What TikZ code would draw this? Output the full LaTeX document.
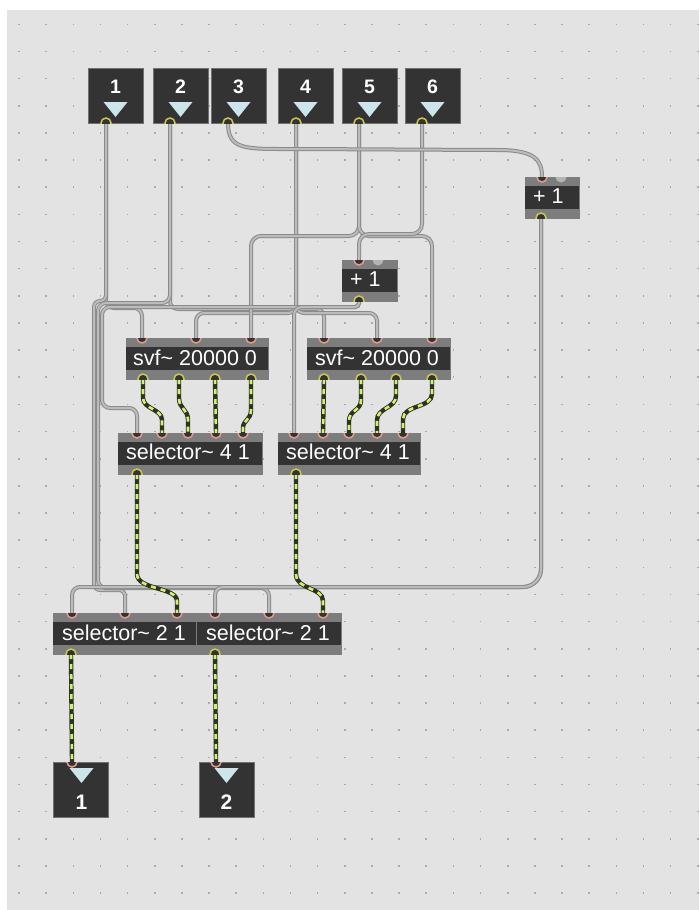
\documentclass[tikz,border=0pt]{standalone}
\usepackage{fontspec}
\setmainfont{Liberation Sans}
\definecolor{bg}{HTML}{E3E3E3}
\definecolor{dotc}{HTML}{ABABAB}
\definecolor{boxdark}{HTML}{333333}
\definecolor{boxedge}{HTML}{707070}
\definecolor{band}{HTML}{7D7D7D}
\definecolor{tri}{HTML}{CBE5EA}
\definecolor{inpink}{HTML}{E69A8A}
\definecolor{outyel}{HTML}{C9C94E}
\definecolor{coldgray}{HTML}{B4B4B4}
\definecolor{cordedge}{HTML}{8A8A8A}
\definecolor{cordfill}{HTML}{BCBCBC}
\definecolor{sigdark}{HTML}{2C3322}
\definecolor{sigyel}{HTML}{D2F26A}
\newcommand\mxin[1]{\begin{scope}\clip ([xshift=-8pt]#1) rectangle ([xshift=8pt,yshift=-8pt]#1);
  \filldraw[fill=boxdark,draw=inpink,line width=1.5pt] (#1) circle[radius=5pt];\end{scope}}
\newcommand\mxcold[1]{\begin{scope}\clip ([xshift=-8pt]#1) rectangle ([xshift=8pt,yshift=-8pt]#1);
  \fill[coldgray] (#1) circle[radius=5.5pt];\end{scope}}
\newcommand\mxout[1]{\begin{scope}\clip ([xshift=-8pt]#1) rectangle ([xshift=8pt,yshift=8pt]#1);
  \filldraw[fill=boxdark,draw=outyel,line width=1.5pt] (#1) circle[radius=5pt];\end{scope}}
\begin{document}
\begin{tikzpicture}[x=1pt,y=-1pt,
  iobox/.style={draw=boxedge,fill=boxdark,line width=0.8pt,minimum width=55pt,minimum height=55pt,inner sep=0pt,anchor=north west},
  objbox/.style={fill=band,draw=band,line width=0.4pt,minimum height=41pt,inner sep=0pt,anchor=north west},
  lbl/.style={font=\fontsize{21.5}{22}\selectfont,text=white,inner sep=0pt,anchor=base west},
  num/.style={font=\fontsize{19.5}{20}\selectfont\bfseries,text=white,inner sep=0pt,anchor=base},
  gc/.style={draw=cordedge,double=cordfill,double distance=2pt,line width=1pt,rounded corners=8pt},
  sc/.style={draw=sigdark,line width=4.4pt,postaction={draw=sigyel,line width=2.6pt,dash pattern=on 5pt off 5pt}},
  trif/.style={fill=tri}
]
\useasboundingbox (0,0) rectangle (699,910);
\fill[white] (0,0) rectangle (699,910);
\fill[bg] (7,10) rectangle (699,910);
\foreach \i in {0,...,25} {\foreach \j in {0,...,32} {
  \fill[dotc] ({19+27.15*\i-0.8},{24.3+27.15*\j-0.8}) rectangle ++(1.6,1.6);}}

% ---------- port coordinates ----------
\coordinate (in1o) at (106,123); \coordinate (in2o) at (170,123); \coordinate (in3o) at (228,123);
\coordinate (in4o) at (296,123); \coordinate (in5o) at (359,123); \coordinate (in6o) at (422,123);
\coordinate (p1Ri1) at (542,177); \coordinate (p1Ri2) at (561,177); \coordinate (p1Ro) at (541,218);
\coordinate (p1Mi1) at (359,260); \coordinate (p1Mi2) at (378,260); \coordinate (p1Mo) at (359,301);
\coordinate (svfLi1) at (142,338); \coordinate (svfLi2) at (196,338); \coordinate (svfLi3) at (251,338);
\coordinate (svfLo1) at (143,379); \coordinate (svfLo2) at (179,379); \coordinate (svfLo3) at (215,379); \coordinate (svfLo4) at (251,379);
\coordinate (svfRi1) at (324,338); \coordinate (svfRi2) at (377,338); \coordinate (svfRi3) at (432,338);
\coordinate (svfRo1) at (324,379); \coordinate (svfRo2) at (361,379); \coordinate (svfRo3) at (396,379); \coordinate (svfRo4) at (432,379);
\coordinate (sel4Li1) at (137,433); \coordinate (sel4Li2) at (162,433); \coordinate (sel4Li3) at (188,433);
\coordinate (sel4Li4) at (216,433); \coordinate (sel4Li5) at (243,433); \coordinate (sel4Lo) at (137,474);
\coordinate (sel4Ri1) at (294,433); \coordinate (sel4Ri2) at (323,433); \coordinate (sel4Ri3) at (349,433);
\coordinate (sel4Ri4) at (377,433); \coordinate (sel4Ri5) at (403,433); \coordinate (sel4Ro) at (296,474);
\coordinate (sel2Li1) at (72,613); \coordinate (sel2Li2) at (125,613); \coordinate (sel2Li3) at (177,613); \coordinate (sel2Lo) at (71,654);
\coordinate (sel2Ri1) at (215,613); \coordinate (sel2Ri2) at (269,613); \coordinate (sel2Ri3) at (323,613); \coordinate (sel2Ro) at (215,654);
\coordinate (out1i) at (72,762); \coordinate (out2i) at (216,762);

% ---------- control cords ----------
\draw[gc] (in1o) -- (in1o |- 0,308) -- (svfLi1 |- 0,308) -- (svfLi1);
\draw[gc,rounded corners=6pt] (in1o) -- (in1o |- 0,301) -- (94,301) -- (94,590) -- (sel2Li2 |- 0,590) -- (sel2Li2);
\draw[gc] (in2o) -- (in2o |- 0,309) -- (svfRi1 |- 0,309) -- (svfRi1);
\draw[gc] (in2o) -- (in2o |- 0,303) -- (98,303) -- (98,588) -- (sel2Ri2 |- 0,588) -- (sel2Ri2);
\draw[gc] (in4o) -- (in4o |- 0,313) -- (svfLi2 |- 0,313) -- (svfLi2);
\draw[gc] (in4o) -- (in4o |- 0,313) -- (svfRi2 |- 0,313) -- (svfRi2);
\draw[gc,rounded corners=10pt] (in5o) -- (in5o |- 0,236) -- (svfLi3 |- 0,236) -- (svfLi3);
\draw[gc,rounded corners=10pt] (in5o) -- (in5o |- 0,236) -- (svfRi3 |- 0,236) -- (svfRi3);
\draw[gc,rounded corners=10pt] (in6o) -- (in6o |- 0,234) -- (p1Mi1 |- 0,234) -- (p1Mi1);
\draw[gc] (p1Mo) [rounded corners=4pt] -- (p1Mo |- 0,307) [rounded corners=8pt] -- (102,307) -- (102,408) -- (sel4Li1 |- 0,408) -- (sel4Li1);
\draw[gc] (p1Mo) [rounded corners=4pt] -- (p1Mo |- 0,307) [rounded corners=8pt] -- (sel4Ri1 |- 0,307) -- (sel4Ri1);
\draw[gc,rounded corners=18pt] (p1Ro) -- (p1Ro |- 0,587) [rounded corners=8pt] -- (sel2Li1 |- 0,587) -- (sel2Li1);
\draw[gc,rounded corners=18pt] (p1Ro) -- (p1Ro |- 0,587) [rounded corners=8pt] -- (sel2Ri1 |- 0,587) -- (sel2Ri1);
\draw[gc] (in3o) .. controls (228,150) and (245,149) .. (300,149) -- (490,150) .. controls (535,150) and (542,160) .. (p1Ri1);

% ---------- signal cords ----------
\draw[sc] (svfLo1) -- (svfLo1 |- 0,398) .. controls +(0,11) and +(0,-11) .. (sel4Li2 |- 0,420) -- (sel4Li2);
\draw[sc] (svfLo2) -- (svfLo2 |- 0,398) .. controls +(0,11) and +(0,-11) .. (sel4Li3 |- 0,420) -- (sel4Li3);
\draw[sc] (svfLo3) -- (sel4Li4);
\draw[sc] (svfLo4) -- (svfLo4 |- 0,410) .. controls +(0,10) and +(0,-8) .. (sel4Li5 |- 0,428) -- (sel4Li5);
\draw[sc] (svfRo1) -- (sel4Ri2);
\draw[sc] (svfRo2) -- (svfRo2 |- 0,400) .. controls +(0,11) and +(0,-11) .. (sel4Ri3 |- 0,421) -- (sel4Ri3);
\draw[sc] (svfRo3) -- (svfRo3 |- 0,396) .. controls +(0,12) and +(0,-12) .. (sel4Ri4 |- 0,420) -- (sel4Ri4);
\draw[sc] (svfRo4) -- (svfRo4 |- 0,394) .. controls +(0,14) and +(0,-14) .. (sel4Ri5 |- 0,419) -- (sel4Ri5);
\draw[sc] (sel4Lo) -- (sel4Lo |- 0,574) .. controls +(0,16) and +(0,-14) .. (sel2Li3 |- 0,601) -- (sel2Li3);
\draw[sc] (sel4Ro) -- (sel4Ro |- 0,574) .. controls +(0,16) and +(0,-14) .. (sel2Ri3 |- 0,601) -- (sel2Ri3);
\draw[sc] (sel2Lo) -- (out1i);
\draw[sc] (sel2Ro) -- (out2i);

% ---------- inlet objects ----------
\foreach \n/\x/\t in {in1/88/1,in2/153/2,in3/211/3,in4/278/4,in5/342/5,in6/405/6} {
  \node[iobox] (\n) at (\x,68) {};
  \node[num] (\n t) at (\x+27.5,93.5) {\t};
  \fill[trif] (\x+15.5,102) -- (\x+39.5,102) -- (\x+27.5,117) -- cycle;
}
\foreach \p in {in1o,in2o,in3o,in4o,in5o,in6o} {\mxout{\p}}

% ---------- outlet objects ----------
\node[iobox] (out1) at (53,762) {};
\node[iobox] (out2) at (199,762) {};
\fill[trif] (69.5,768) -- (93.5,768) -- (81.5,783) -- cycle;
\fill[trif] (214.5,768) -- (238.5,768) -- (226.5,783) -- cycle;
\node[num,font=\fontsize{21}{22}\selectfont\bfseries] (out1t) at (81.5,809) {1};
\node[num,font=\fontsize{21}{22}\selectfont\bfseries] (out2t) at (226.5,809) {2};
\mxin{out1i} \mxin{out2i}

% ---------- objects ----------
\node[objbox,minimum width=54pt] (p1R) at (525,177) {};
\node[objbox,minimum width=55pt] (p1M) at (342,260) {};
\node[objbox,minimum width=142pt] (svfL) at (126,338) {};
\node[objbox,minimum width=143pt] (svfR) at (307,338) {};
\node[objbox,minimum width=144pt] (sel4L) at (118,433) {};
\node[objbox,minimum width=142pt] (sel4R) at (278,433) {};
\node[objbox,minimum width=143pt] (sel2L) at (53,613) {};
\node[objbox,minimum width=144pt] (sel2R) at (197,613) {};
\foreach \n in {p1R,p1M,svfL,svfR,sel4L,sel4R,sel2L,sel2R} {
  \fill[boxdark] ([yshift=-8.5pt]\n.north west) rectangle ([yshift=9pt]\n.south east);
}
\node[lbl] (p1Rt) at (533,203.5) {+ 1};
\node[lbl] (p1Mt) at (350,286.5) {+ 1};
\node[lbl] (svfLt) at (133,365) {svf\textasciitilde{} 20000 0};
\node[lbl] (svfRt) at (315,365) {svf\textasciitilde{} 20000 0};
\node[lbl] (sel4Lt) at (126,459.5) {selector\textasciitilde{} 4 1};
\node[lbl] (sel4Rt) at (286,459.5) {selector\textasciitilde{} 4 1};
\node[lbl] (sel2Lt) at (62,640) {selector\textasciitilde{} 2 1};
\node[lbl] (sel2Rt) at (206,640) {selector\textasciitilde{} 2 1};

% ---------- ports ----------
\mxin{p1Ri1} \mxcold{p1Ri2} \mxout{p1Ro}
\mxin{p1Mi1} \mxcold{p1Mi2} \mxout{p1Mo}
\foreach \p in {svfLi1,svfLi2,svfLi3,svfRi1,svfRi2,svfRi3,sel4Li1,sel4Li2,sel4Li3,sel4Li4,sel4Li5,
  sel4Ri1,sel4Ri2,sel4Ri3,sel4Ri4,sel4Ri5,sel2Li1,sel2Li2,sel2Li3,sel2Ri1,sel2Ri2,sel2Ri3} {\mxin{\p}}
\foreach \p in {svfLo1,svfLo2,svfLo3,svfLo4,svfRo1,svfRo2,svfRo3,svfRo4,sel4Lo,sel4Ro,sel2Lo,sel2Ro} {\mxout{\p}}
\end{tikzpicture}
\end{document}
